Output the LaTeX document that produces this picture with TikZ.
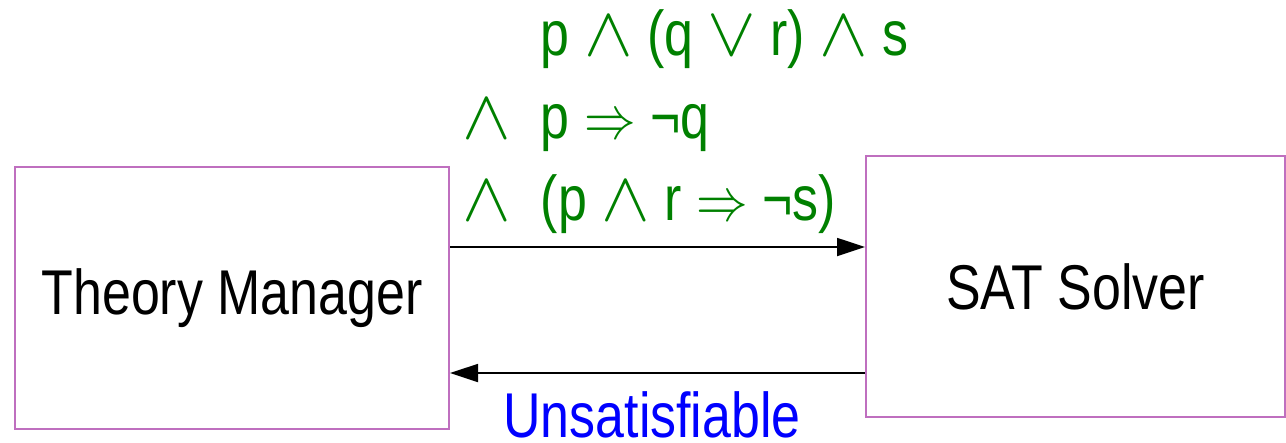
\documentclass[tikz,border=0pt]{standalone}
\usepackage{fontspec}
\setmainfont{Liberation Sans}[FakeStretch=0.82]
\usepackage{tikz}
\usetikzlibrary{arrows.meta,positioning}
\definecolor{boxline}{HTML}{BF6FBF}
\definecolor{formula}{HTML}{008000}
\definecolor{answer}{HTML}{0000FF}
\newcommand\lop[1]{\scalebox{1.2}[1.15]{$#1$}}
\newcommand\limp{\scalebox{0.85}[1]{$\Rightarrow$}}

\begin{document}
\begin{tikzpicture}[x=0.01cm, y=-0.01cm,
    every node/.style={font=\fontsize{18}{22}\selectfont},
    module/.style={draw=boxline, line width=0.5pt, inner sep=0pt},
    flow/.style={line width=0.5pt, -{Triangle[length=0.28cm,width=0.18cm]}},
    clause/.style={text=formula, anchor=base west, inner sep=0pt}]
\useasboundingbox (0,0) rectangle (1286,442);
\node[module, minimum width=4.34cm, minimum height=2.62cm] (tm) at (232,298) {Theory Manager};
\node[module, minimum width=4.19cm, minimum height=2.61cm] (sat) at (1075.5,286.5) {SAT Solver};
\coordinate (upper) at (0,247);
\coordinate (lower) at (0,373);
\draw[flow] (tm.east |- upper) -- (sat.west |- upper);
\draw[flow] (sat.west |- lower) -- (tm.east |- lower);
% formula sent to the solver
\node[clause] (c1) at (540,55) {p \lop{\wedge} (q \lop{\vee} r) \lop{\wedge} s};
\node[clause] (c2) at (540,138) {p \limp{} ¬q};
\node[clause] (c3) at (540,220) {(p \lop{\wedge} r \limp{} ¬s)};
\node[clause] (a2) at (462,138) {\lop{\wedge}};
\node[clause] (a3) at (462,220) {\lop{\wedge}};
% answer
\node[text=answer, anchor=base, inner sep=0pt] (unsat) at (652,437) {Unsatisfiable};
\end{tikzpicture}
\end{document}
